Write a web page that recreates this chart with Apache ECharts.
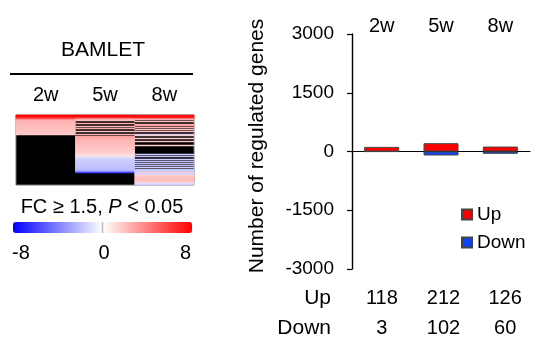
<!DOCTYPE html>
<html>
<head>
<meta charset="utf-8">
<script src="https://cdn.jsdelivr.net/npm/echarts@6/dist/echarts.min.js"></script>
<style>html,body{margin:0;padding:0;background:#fff;}#c{width:536px;height:343px;}</style>
</head>
<body>
<div id="c"></div>
<script>
// ---- data ----
var timepoints = ['2w', '5w', '8w'];
var upCounts = [118, 212, 126];
var downCounts = [-3, -102, -60];
var upLabels = ['118', '212', '126'];
var downLabels = ['3', '102', '60'];
var yTicks = [-3000, -1500, 0, 1500, 3000];
var colorbarTicks = ['-8', '0', '8'];
// heatmap columns: log2 fold change per gene-row (null = not significant, shown black)
var _ = null;
var col2w = [8, 8, 7, 6, 4,
  2.6, 2.4, 2.3, 2.2, 2.2, 2.1, 2.1, 2, 2, 2, 1.9, 1.9, 1.8, 1.8, 1.7,
  _, _, _, _, _, _, _, _, _, _,
  _, _, _, _, _, _, _, _, _, _,
  _, _, _, _, _, _, _, _, _, _,
  _, _, _, _, _, _, _, _, _, _,
  _, _, _, _, _, _, _, _, _, _];
var col5w = [8, 8, 7, 5,
  2.5, 2, _, _, 2.5, _, _, 2, _, 2.5, _, _, 2, _, _, 2.5, _,
  3, 2.8, 2.6, 2.5, 2.4, 2.3, 2.2, 2.2, 2.1, 2, 2, 1.9, 1.8, 1.8, 1.7, 1.6, 1.5, 1.4, 1.3, 1.1, 0.8,
  -1.1, -1.3, -1.5, -1.6, -1.6, -1.7, -1.7, -1.8, -1.8, -1.9, -1.9, -2, -2.1, -2.3, -3, -6,
  _, _, _, _, _, _, _, _, _, _, _, _];
var col8w = [8, 7, 8, 5,
  2.5, _, 2, _, _, 2.5, 3, _, 2.5, _, 2, _, 2, _, _, -1.5, 1.5,
  _, _, 1.5, _, _, 2, _, _, _, 1.5, _, _,
  _, _, _, _, _,
  _, -1.5, _, -2, _, _, -1.5, _, -2, _, -1.8, _, -2, _, -1.5, _, -2, -1.6,
  -1.8, 1.5, -1.6, -1.2,
  1.6, 1.8, 2, 2, 2.1, 2, 1.8, 1.6,
  -1, -1.5];

var heatCols = [col2w, col5w, col8w];
var rowIds = col2w.map(function (v, i) { return String(i); });
var heatData = [];
heatCols.forEach(function (col, ci) {
  col.forEach(function (v, ri) { if (v !== null) heatData.push([ci, ri, v]); });
});

var FONT = 'Liberation Sans, Arial, sans-serif';
var lbl = function (extra) {
  var o = { fontSize: 20, color: '#000', fontFamily: FONT };
  for (var k in extra) o[k] = extra[k];
  return o;
};
var chart = echarts.init(document.getElementById('c'));
chart.setOption({
  animation: false,
  backgroundColor: '#fff',
  textStyle: { fontFamily: FONT, color: '#000' },
  grid: [
    { left: 16, top: 115, width: 178, height: 70, show: true, backgroundColor: '#000', borderColor: '#777', borderWidth: 1 },
    { left: 352, top: 34, width: 178, height: 235 },
    { left: 351, top: 270, width: 198, height: 10 }
  ],
  xAxis: [
    { gridIndex: 0, type: 'category', data: timepoints, position: 'top',
      axisLine: { show: false }, axisTick: { show: false },
      axisLabel: lbl({ margin: 10 }) },
    { gridIndex: 1, type: 'category', data: timepoints, position: 'bottom',
      axisLine: { onZero: true, lineStyle: { color: '#000', width: 1.2 } }, axisTick: { show: false },
      axisLabel: { show: false } },
    { gridIndex: 1, type: 'category', data: timepoints, position: 'top',
      axisLine: { show: false, onZero: false }, axisTick: { show: false },
      axisLabel: lbl({ margin: -2 }) },
    { gridIndex: 2, type: 'category', data: upLabels, position: 'bottom', offset: 0,
      axisLine: { show: false, onZero: false }, axisTick: { show: false },
      axisLabel: lbl({ margin: 8 }) },
    { gridIndex: 2, type: 'category', data: downLabels, position: 'bottom', offset: 30,
      axisLine: { show: false, onZero: false }, axisTick: { show: false },
      axisLabel: lbl({ margin: 8 }) }
  ],
  yAxis: [
    { gridIndex: 0, type: 'category', data: rowIds, inverse: true, show: false },
    { gridIndex: 1, type: 'value', min: yTicks[0], max: yTicks[yTicks.length - 1], interval: 1500,
      splitLine: { show: false },
      axisLine: { show: true, lineStyle: { color: '#000', width: 1.4 } },
      axisTick: { show: true, length: 5, lineStyle: { color: '#000', width: 1.2 } },
      axisLabel: lbl({ margin: 18, fontSize: 19, formatter: function (v) { return String(v); } }) },
    { gridIndex: 2, type: 'value', show: false }
  ],
  visualMap: {
    type: 'continuous', seriesIndex: 0, min: -8, max: 8, calculable: false,
    orient: 'horizontal', left: 13, top: 222, itemWidth: 11, itemHeight: 179, padding: 0,
    text: null, showLabel: false, hoverLink: false,
    inRange: { color: ['#0000ff', '#ffffff', '#ff0000'] }
  },
  legend: {
    orient: 'vertical', left: 461, top: 205, padding: 0, itemWidth: 10, itemHeight: 10, itemGap: 9,
    icon: 'rect', textStyle: { fontSize: 19, color: '#000', fontFamily: FONT },
    data: ['Up', 'Down']
  },
  series: [
    { type: 'heatmap', xAxisIndex: 0, yAxisIndex: 0, data: heatData, itemStyle: { borderWidth: 0 } },
    { name: 'Up', type: 'bar', xAxisIndex: 1, yAxisIndex: 1, stack: 'g', data: upCounts, barWidth: 35,
      itemStyle: { color: '#ff0000', borderColor: '#444', borderWidth: 1 } },
    { name: 'Down', type: 'bar', xAxisIndex: 1, yAxisIndex: 1, stack: 'g', data: downCounts, barWidth: 35,
      itemStyle: { color: '#0a46ff', borderColor: '#444', borderWidth: 1 } }
  ],
  graphic: [
    { type: 'text', x: 103, y: 50, style: { text: 'BAMLET', fontSize: 21, fontFamily: FONT, fill: '#000', textAlign: 'center', textVerticalAlign: 'middle' } },
    { type: 'line', shape: { x1: 10, y1: 74, x2: 193, y2: 74 }, style: { stroke: '#000', lineWidth: 2 } },
    { type: 'text', x: 102, y: 207, style: { text: 'FC ≥ 1.5, {i|P} < 0.05', fontSize: 20, fontFamily: FONT, fill: '#000', textAlign: 'center', textVerticalAlign: 'middle',
      rich: { i: { fontStyle: 'italic', fontSize: 20, fontFamily: FONT } } } },
    { type: 'line', z: 100, shape: { x1: 102.5, y1: 222, x2: 102.5, y2: 233 }, style: { stroke: '#bbb', lineWidth: 1.5 } },
    { type: 'text', x: 12, y: 253, style: { text: colorbarTicks[0], fontSize: 20, fontFamily: FONT, fill: '#000', textAlign: 'left', textVerticalAlign: 'middle' } },
    { type: 'text', x: 104, y: 253, style: { text: colorbarTicks[1], fontSize: 20, fontFamily: FONT, fill: '#000', textAlign: 'center', textVerticalAlign: 'middle' } },
    { type: 'text', x: 191, y: 253, style: { text: colorbarTicks[2], fontSize: 20, fontFamily: FONT, fill: '#000', textAlign: 'right', textVerticalAlign: 'middle' } },
    { type: 'text', x: 257, y: 146, rotation: Math.PI / 2, style: { text: 'Number of regulated genes', fontSize: 21, fontFamily: FONT, fill: '#000', textAlign: 'center', textVerticalAlign: 'middle' } },
    { type: 'text', x: 331, y: 298, style: { text: 'Up', fontSize: 21, fontFamily: FONT, fill: '#000', textAlign: 'right', textVerticalAlign: 'middle' } },
    { type: 'text', x: 331, y: 328, style: { text: 'Down', fontSize: 21, fontFamily: FONT, fill: '#000', textAlign: 'right', textVerticalAlign: 'middle' } }
  ]
});
</script>
</body>
</html>
